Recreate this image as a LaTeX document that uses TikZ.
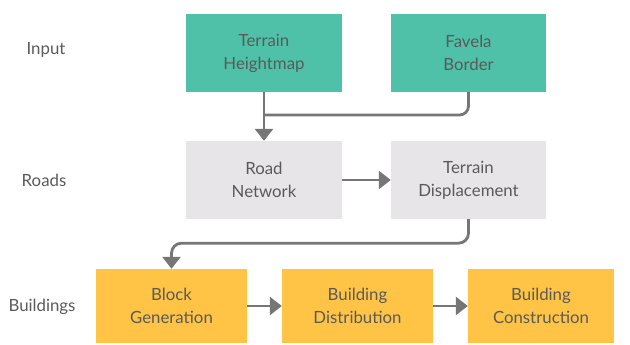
\documentclass[tikz,border=0pt]{standalone}
\usepackage{fontspec}
\setmainfont{Lato}
\usetikzlibrary{arrows.meta}
\definecolor{teal}{HTML}{4FC1A9}
\definecolor{greybox}{HTML}{E8E5E9}
\definecolor{amber}{HTML}{FFC445}
\definecolor{ink}{HTML}{5A5A5A}
\definecolor{wire}{HTML}{767676}
\tikzset{
  box/.style={rectangle, inner sep=0pt, text=ink, align=center,
    font=\fontsize{16.8}{23}\selectfont, minimum height=78pt},
  inbox/.style={box, fill=teal, minimum width=156pt},
  roadbox/.style={box, fill=greybox, minimum width=156pt},
  bldbox/.style={box, fill=amber, minimum width=151pt, minimum height=74pt},
  rowlabel/.style={text=ink, font=\fontsize{16.8}{20}\selectfont},
  wireline/.style={draw=wire, line width=2.8pt},
  arr/.style={wireline, -{Triangle[width=18pt,length=12pt]}},
}
\begin{document}
\begin{tikzpicture}[x=1pt,y=-1pt]
\useasboundingbox (0,0) rectangle (630,345);

% row labels
\node[rowlabel] (lin) at (46,50) {Input};
\node[rowlabel] (lrd) at (44,180) {Roads};
\node[rowlabel] (lbd) at (42,307) {Buildings};

% input row
\node[inbox] (th) at (264,53) {Terrain\\Heightmap};
\node[inbox, minimum width=155pt] (fb) at (468.5,53) {Favela\\Border};

% roads row
\node[roadbox] (rn) at (264,180) {Road\\Network};
\node[roadbox, minimum width=155pt] (td) at (468.5,180) {Terrain\\Displacement};

% buildings row
\node[bldbox] (bg) at (171.5,306) {Block\\Generation};
\node[bldbox] (bd) at (357.5,306) {Building\\Distribution};
\node[bldbox, minimum width=146pt] (bc) at (541,306) {Building\\Construction};

% connectors
\coordinate (join) at (264,115);
\draw[wireline, rounded corners=9pt] (fb.south) |- (join);
\draw[arr] (th.south) -- (rn.north);
\draw[arr] (rn.east) -- (td.west);
\draw[arr, rounded corners=10pt] (td.south) -- ++(0,24) -| (bg.north);
\draw[arr] (bg.east) -- (bd.west);
\draw[arr] (bd.east) -- (bc.west);
\end{tikzpicture}
\end{document}
